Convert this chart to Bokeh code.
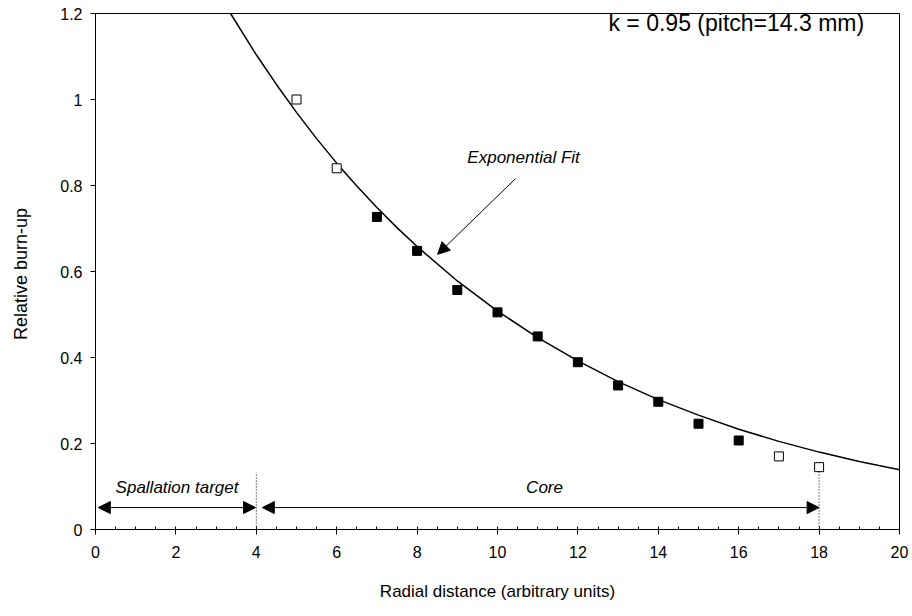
from bokeh.plotting import figure
from bokeh.models import (Range1d, FixedTicker, Label, Arrow, NormalHead)
from bokeh.embed import file_html
from bokeh.resources import INLINE

# ---------------- data ----------------
open_x = [5, 6, 17, 18]
open_y = [1.0, 0.84, 0.17, 0.145]

filled_x = [7, 8, 9, 10, 11, 12, 13, 14, 15, 16]
filled_y = [0.727, 0.648, 0.557, 0.505, 0.449, 0.389, 0.335, 0.297, 0.246, 0.207]

# exponential fit curve
fit_x = [3.36, 4, 4.5, 5, 5.5, 6, 6.5, 7, 7.5, 8, 9, 10, 11, 12, 13, 14, 15, 16, 17, 18, 19, 20]
fit_y = [1.2, 1.104, 1.035, 0.970, 0.909, 0.852, 0.799, 0.749, 0.702, 0.658, 0.578, 0.508,
         0.446, 0.392, 0.344, 0.302, 0.266, 0.233, 0.205, 0.180, 0.158, 0.139]

x_ticks = [0, 2, 4, 6, 8, 10, 12, 14, 16, 18, 20]
y_ticks = [0, 0.2, 0.4, 0.6, 0.8, 1, 1.2]
y_tick_labels = ["0", "0.2", "0.4", "0.6", "0.8", "1", "1.2"]

FONT = "Liberation Sans"

p = figure(width=912, height=616, output_backend="svg", toolbar_location=None,
           x_range=Range1d(0, 20), y_range=Range1d(0, 1.2),
           min_border_left=95, min_border_right=13, min_border_top=13, min_border_bottom=87)
p.grid.visible = False
p.outline_line_color = "black"
p.outline_line_width = 1
p.background_fill_color = "white"
p.border_fill_color = "white"

# axes
xa = p.xaxis[0]
xa.ticker = FixedTicker(ticks=x_ticks, minor_ticks=[i * 0.5 for i in range(41)])
xa.major_tick_out = 5
xa.major_tick_in = 0
xa.minor_tick_in = 3
xa.minor_tick_out = 0
xa.major_tick_line_color = "black"
xa.minor_tick_line_color = "black"
xa.major_label_standoff = 11
xa.major_label_text_font = FONT
xa.major_label_text_font_size = "16px"
xa.major_label_text_color = "black"
xa.axis_label = "Radial distance (arbitrary units)"
xa.axis_label_text_font = FONT
xa.axis_label_text_font_style = "normal"
xa.axis_label_text_font_size = "17px"
xa.axis_label_text_color = "black"
xa.axis_label_standoff = 21
xa.axis_line_color = "black"

ya = p.yaxis[0]
ya.ticker = FixedTicker(ticks=y_ticks, minor_ticks=[])
ya.major_label_overrides = {t: l for t, l in zip(y_ticks, y_tick_labels)}
ya.major_tick_out = 5
ya.major_tick_in = 0
ya.minor_tick_in = 0
ya.minor_tick_out = 0
ya.major_tick_line_color = "black"
ya.major_label_standoff = 8
ya.major_label_text_font = FONT
ya.major_label_text_font_size = "16px"
ya.major_label_text_color = "black"
ya.axis_label = "Relative  burn-up"
ya.axis_label_text_font = FONT
ya.axis_label_text_font_style = "normal"
ya.axis_label_text_font_size = "18px"
ya.axis_label_text_color = "black"
ya.axis_label_standoff = 26
ya.axis_line_color = "black"

# fit curve
p.line(fit_x, fit_y, line_color="black", line_width=1.5)

# data points
p.scatter(filled_x, filled_y, marker="square", size=9, fill_color="black", line_color="black")
p.scatter(open_x, open_y, marker="square", size=9, fill_color="white", line_color="black",
          line_width=1)

# dotted boundary lines
p.segment(x0=[4, 18], y0=[0, 0], x1=[4, 18], y1=[0.133, 0.137], line_color="black",
          line_width=1, line_dash="1 2")

# region arrows
def head():
    return NormalHead(size=12, fill_color="black", line_color="black", line_width=1)

p.add_layout(Arrow(start=head(), end=head(), x_start=0.07, y_start=0.051, x_end=3.98, y_end=0.051,
                   line_color="black", line_width=1))
p.add_layout(Arrow(start=head(), end=head(), x_start=4.15, y_start=0.051, x_end=18.0, y_end=0.051,
                   line_color="black", line_width=1))

# fit annotation arrow
p.add_layout(Arrow(end=NormalHead(size=12, fill_color="black", line_color="black"),
                   x_start=10.45, y_start=0.816, x_end=8.51, y_end=0.640,
                   line_color="black", line_width=1))

# texts
p.add_layout(Label(x=12.76, y=1.177, text="k = 0.95 (pitch=14.3 mm)", text_font=FONT,
                   text_font_size="23px", text_baseline="middle", text_align="left",
                   text_color="black"))
p.add_layout(Label(x=9.25, y=0.865, text="Exponential Fit", text_font=FONT,
                   text_font_style="italic", text_font_size="17px", text_baseline="middle",
                   text_color="black"))
p.add_layout(Label(x=0.5, y=0.098, text="Spallation target", text_font=FONT,
                   text_font_style="italic", text_font_size="17px", text_baseline="middle",
                   text_color="black"))
p.add_layout(Label(x=11.17, y=0.098, text="Core", text_font=FONT,
                   text_font_style="italic", text_font_size="17px", text_baseline="middle",
                   text_align="center", text_color="black"))

open("out.html", "w").write(file_html(p, INLINE))
